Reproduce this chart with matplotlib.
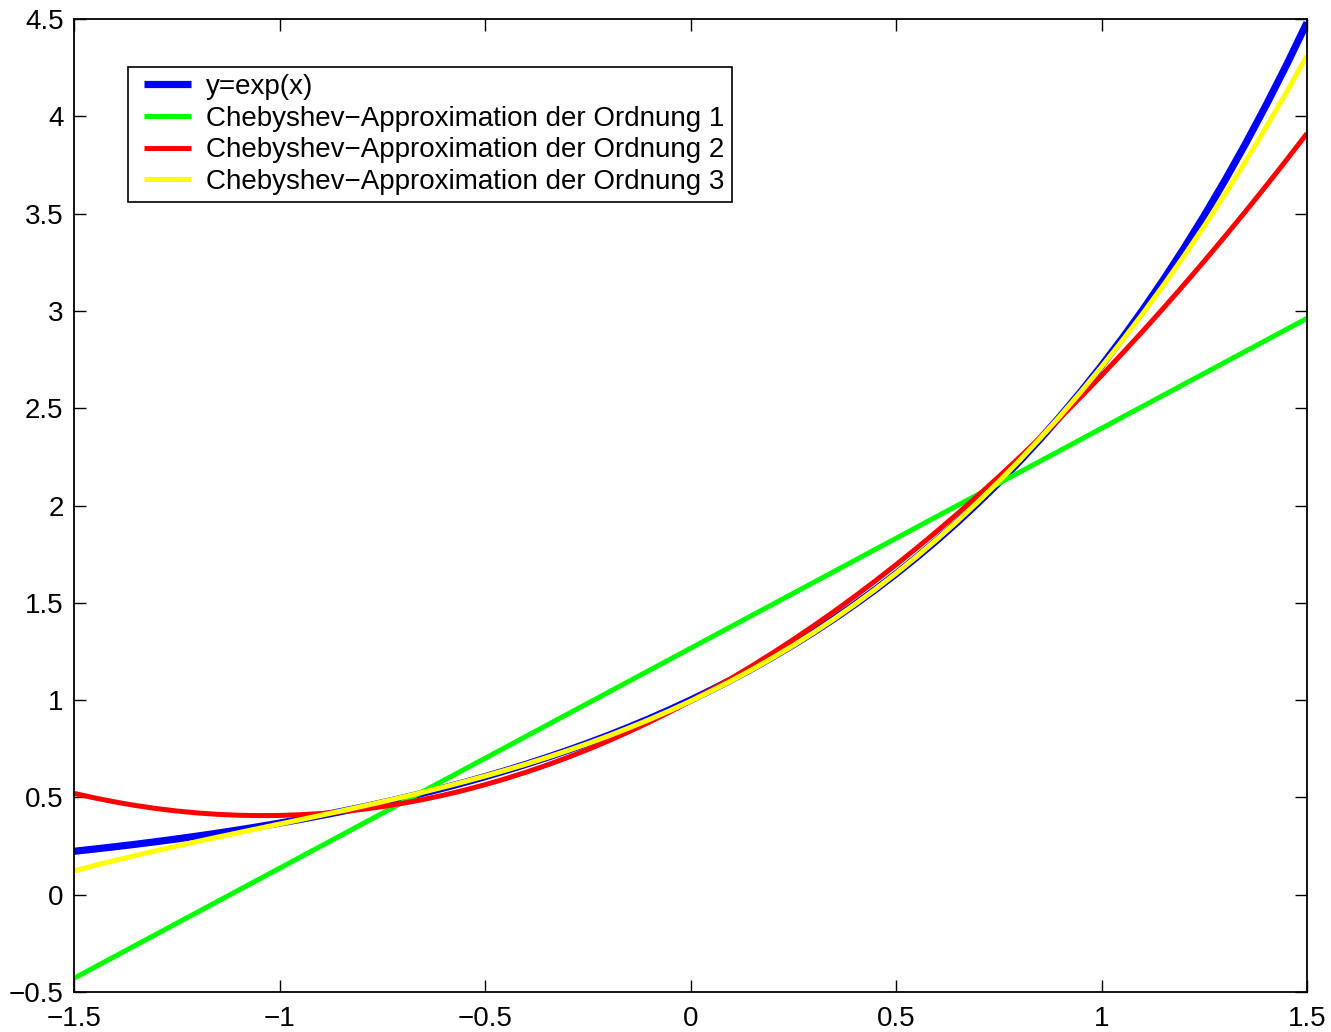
import numpy as np
import matplotlib
matplotlib.use("Agg")
import matplotlib.pyplot as plt
from matplotlib.lines import Line2D
from matplotlib.legend_handler import HandlerLine2D

# x grid for the curved series (step 0.05)
x_vals = np.round(np.linspace(-1.5, 1.5, 61), 2)

exp_vals = [0.2231, 0.2346, 0.2466, 0.2592, 0.2725, 0.2865, 0.3012, 0.3166,
            0.3329, 0.3499, 0.3679, 0.3867, 0.4066, 0.4274, 0.4493, 0.4724,
            0.4966, 0.5220, 0.5488, 0.5769, 0.6065, 0.6376, 0.6703, 0.7047,
            0.7408, 0.7788, 0.8187, 0.8607, 0.9048, 0.9512, 1.0000, 1.0513,
            1.1052, 1.1618, 1.2214, 1.2840, 1.3499, 1.4191, 1.4918, 1.5683,
            1.6487, 1.7333, 1.8221, 1.9155, 2.0138, 2.1170, 2.2255, 2.3396,
            2.4596, 2.5857, 2.7183, 2.8577, 3.0042, 3.1582, 3.3201, 3.4903,
            3.6693, 3.8574, 4.0552, 4.2631, 4.4817]

# order 1 is a straight line: its two end points
cheb1_x = [-1.5, 1.5]
cheb1_vals = [-0.4294, 2.9616]

cheb2_vals = [0.5209, 0.4974, 0.4765, 0.4583, 0.4429, 0.4301, 0.4201, 0.4129,
              0.4083, 0.4065, 0.4073, 0.4109, 0.4171, 0.4261, 0.4379, 0.4523,
              0.4695, 0.4893, 0.5119, 0.5372, 0.5653, 0.5960, 0.6294, 0.6655,
              0.7044, 0.7459, 0.7902, 0.8373, 0.8870, 0.9395, 0.9946, 1.0525,
              1.1130, 1.1763, 1.2424, 1.3111, 1.3826, 1.4567, 1.5336, 1.6132,
              1.6956, 1.7806, 1.8683, 1.9587, 2.0519, 2.1477, 2.2463, 2.3477,
              2.4517, 2.5585, 2.6679, 2.7801, 2.8949, 3.0125, 3.1329, 3.2559,
              3.3817, 3.5101, 3.6413, 3.7752, 3.9119]

cheb3_vals = [0.1218, 0.1496, 0.1761, 0.2015, 0.2262, 0.2500, 0.2732, 0.2961,
              0.3186, 0.3409, 0.3630, 0.3852, 0.4075, 0.4302, 0.4535, 0.4772,
              0.5018, 0.5271, 0.5534, 0.5809, 0.6096, 0.6397, 0.6713, 0.7045,
              0.7395, 0.7764, 0.8154, 0.8567, 0.9001, 0.9461, 0.9946, 1.0459,
              1.0999, 1.1569, 1.2172, 1.2806, 1.3475, 1.4177, 1.4917, 1.5695,
              1.6513, 1.7369, 1.8268, 1.9209, 2.0196, 2.1228, 2.2307, 2.3436,
              2.4613, 2.5842, 2.7122, 2.8457, 2.9846, 3.1293, 3.2798, 3.4360,
              3.5984, 3.7669, 3.9417, 4.1230, 4.3110]

labels = ["y=exp(x)",
          "Chebyshev\u2212Approximation der Ordnung 1",
          "Chebyshev\u2212Approximation der Ordnung 2",
          "Chebyshev\u2212Approximation der Ordnung 3"]

x_ticks = [-1.5, -1, -0.5, 0, 0.5, 1, 1.5]
x_tick_labels = ["\u22121.5", "\u22121", "\u22120.5", "0", "0.5", "1", "1.5"]
y_ticks = [-0.5, 0, 0.5, 1, 1.5, 2, 2.5, 3, 3.5, 4, 4.5]
y_tick_labels = ["\u22120.5", "0", "0.5", "1", "1.5", "2", "2.5", "3", "3.5", "4", "4.5"]

plt.rcParams["font.family"] = ["Liberation Sans", "DejaVu Sans"]

fig = plt.figure(figsize=(13.31, 10.32), dpi=100)
ax = fig.add_axes([74 / 1331, 40 / 1032, 1233 / 1331, 973 / 1032])

ax.plot(x_vals, exp_vals, color="#0000ff", linewidth=5.2, label=labels[0],
        solid_capstyle="butt")
ax.plot(cheb1_x, cheb1_vals, color="#00ff00", linewidth=3.6, label=labels[1],
        solid_capstyle="butt")
ax.plot(x_vals, cheb2_vals, color="#ff0000", linewidth=3.6, label=labels[2],
        solid_capstyle="butt")
ax.plot(x_vals, cheb3_vals, color="#ffff00", linewidth=3.6, label=labels[3],
        solid_capstyle="butt")

ax.set_xlim(-1.5, 1.5)
ax.set_ylim(-0.5, 4.5)
ax.set_xticks(x_ticks)
ax.set_xticklabels(x_tick_labels)
ax.set_yticks(y_ticks)
ax.set_yticklabels(y_tick_labels)
ax.tick_params(direction="in", length=8.6, width=1.0, labelsize=20,
               top=True, right=True)
ax.tick_params(axis="x", pad=10)
ax.tick_params(axis="y", pad=7.5)
for spine in ax.spines.values():
    spine.set_linewidth(1.3)

leg = ax.legend(loc="upper left", bbox_to_anchor=(0.0438, 0.9507),
                borderaxespad=0, fontsize=20, fancybox=False,
                edgecolor="black", framealpha=1, handlelength=2.3,
                handletextpad=0.25, labelspacing=0.2, borderpad=0.26,
                handler_map={Line2D: HandlerLine2D(numpoints=2, marker_pad=0.3)})
leg.get_frame().set_linewidth(1.2)

fig.savefig("out.png", dpi=100)
plt.close(fig)
